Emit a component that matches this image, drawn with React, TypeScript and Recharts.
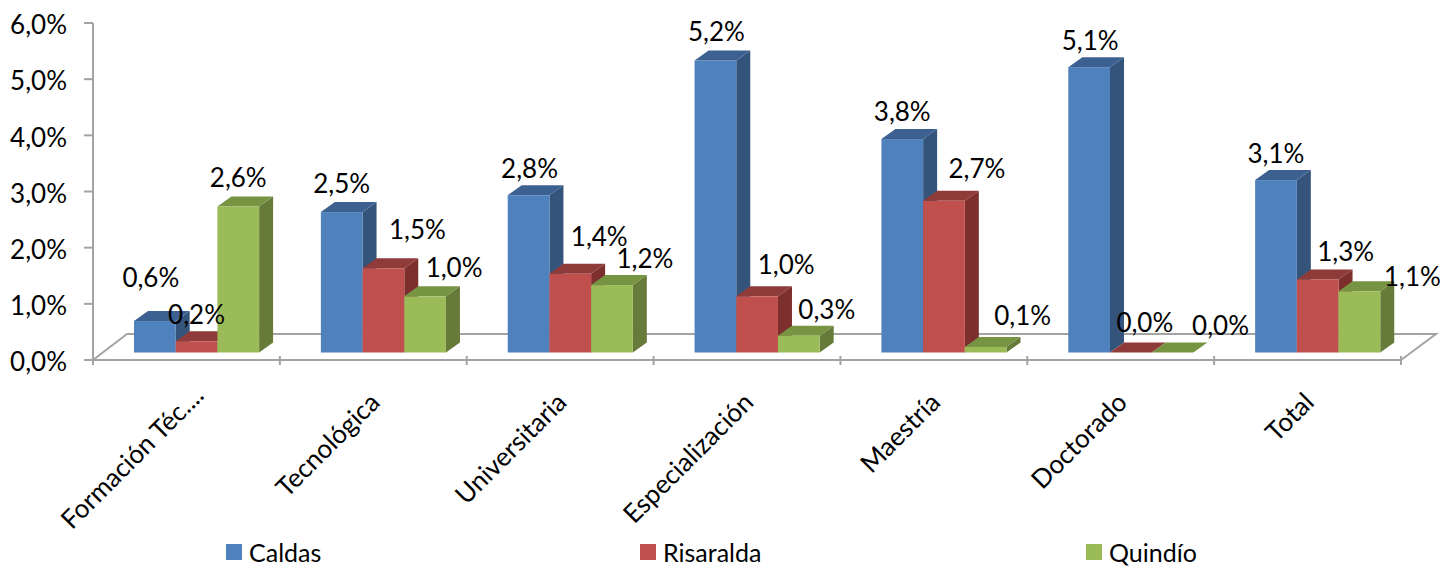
import { Bar, BarChart, Customized, LabelList, Legend, XAxis, YAxis } from "recharts";

const categories = ["Formación Téc....", "Tecnológica", "Universitaria", "Especialización", "Maestría", "Doctorado", "Total"];
const caldas = [0.56, 2.5, 2.8, 5.2, 3.8, 5.08, 3.07];
const risaralda = [0.2, 1.5, 1.4, 1.0, 2.7, 0.0, 1.3];
const quindio = [2.6, 1.0, 1.2, 0.3, 0.1, 0.0, 1.09];
const yTicks = [0, 1, 2, 3, 4, 5, 6];

const rows = categories.map((name, i) => ({
  name,
  caldas: caldas[i],
  risaralda: risaralda[i],
  quindio: quindio[i],
}));

const FONT = "Lato, 'Open Sans', sans-serif";
const AXIS_GREY = "#a3a3a3";
const TEXT_SIZE = 26;

// bars sit on the raised floor, not on the axis line
const SHIFT_X = 10;
const SHIFT_Y = -7.5;
const DEPTH_X = 14;
const DEPTH_Y = 10;

const BLUE = { front: "#4f81bd", top: "#3c6190", side: "#34547c" };
const RED = { front: "#c0504d", top: "#8f3b39", side: "#7d2f2d" };
const GREEN = { front: "#9bbb59", top: "#779442", side: "#667b3a" };

// hand placed data labels in the original, offset from the top centre of each bar
const caldasLabelOffset = [[-4, -44], [0, -29], [1, -27], [1, -29], [0, -28], [1, -27], [0, -27]];
const risaraldaLabelOffset = [[0, -27], [34, -39], [29, -38], [29, -32], [33, -33], [14, -31], [28, -28]];
const quindioLabelOffset = [[0, -29], [29, -29], [33, -27], [28, -27], [37, -32], [48, -28], [53, -15]];

const legendLeft = [226, 640, 1086];

function box3d(colors: typeof BLUE) {
  return function Box(props: any) {
    const x = props.x + SHIFT_X;
    const y = props.y + SHIFT_Y;
    const w = props.width;
    const h = props.height;
    return (
      <g>
        <polygon
          points={`${x + w},${y} ${x + w + DEPTH_X},${y - DEPTH_Y} ${x + w + DEPTH_X},${y + h - DEPTH_Y} ${x + w},${y + h}`}
          fill={colors.side}
        />
        <polygon
          points={`${x},${y} ${x + DEPTH_X},${y - DEPTH_Y} ${x + w + DEPTH_X},${y - DEPTH_Y} ${x + w},${y}`}
          fill={colors.top}
        />
        <rect x={x} y={y} width={w} height={h} fill={colors.front} />
      </g>
    );
  };
}

function barLabel(offsets: number[][]) {
  return function BarLabel(props: any) {
    const [dx, dy] = offsets[props.index];
    return (
      <text
        x={props.x + props.width / 2 + SHIFT_X + dx}
        y={props.y + SHIFT_Y + dy}
        textAnchor="middle"
        dominantBaseline="central"
        fontFamily={FONT}
        fontSize={TEXT_SIZE}
        fill="#000"
      >
        {formatPct(props.value)}
      </text>
    );
  };
}

function formatPct(v: number) {
  return v.toFixed(1).replace(".", ",") + "%";
}

function CategoryTick(props: any) {
  const { x, y, index, payload } = props;
  const band = 1308 / categories.length;
  const axisY = y - 12;
  // the truncated first label runs a bit further along its diagonal
  const endX = index === 0 ? x + 19 : x + 8;
  const endY = index === 0 ? axisY + 41 : axisY + 48;
  return (
    <g>
      <line x1={x + band / 2} x2={x + band / 2} y1={axisY} y2={axisY + 9} stroke={AXIS_GREY} strokeWidth={2} />
      {index === 0 && <line x1={x - band / 2} x2={x - band / 2} y1={axisY} y2={axisY + 9} stroke={AXIS_GREY} strokeWidth={2} />}
      <text
        x={endX}
        y={endY}
        textAnchor="end"
        fontFamily={FONT}
        fontSize={TEXT_SIZE}
        fill="#000"
        transform={`rotate(-45 ${endX} ${endY})`}
      >
        {payload.value}
      </text>
    </g>
  );
}

function Floor(props: any) {
  const left = 93;
  const right = 1401;
  const bottom = 360;
  return (
    <polyline
      points={`${left},${bottom} ${left + 34},334 ${right + 35},334 ${right},${bottom}`}
      fill="none"
      stroke={AXIS_GREY}
      strokeWidth={2}
    />
  );
}

function LegendRow(props: any) {
  return (
    <div style={{ position: "relative", width: 1441, height: 30, fontFamily: FONT, fontSize: 25, lineHeight: "20px" }}>
      {props.payload.map((item: any, i: number) => (
        <div key={item.value} style={{ position: "absolute", left: legendLeft[i], top: 6, display: "flex", alignItems: "center", height: 20 }}>
          <span style={{ display: "inline-block", width: 16, height: 16, background: item.color, marginRight: 7 }} />
          <span style={{ color: "#000" }}>{item.value}</span>
        </div>
      ))}
    </div>
  );
}

export default function App() {
  return (
    <div style={{ position: "absolute", left: 0, top: 0, width: 1441, height: 566, background: "#fff" }}>
      <BarChart
        width={1441}
        height={566}
        data={rows}
        margin={{ top: 23, right: 40, bottom: 0, left: 0 }}
        barSize={41.7}
        barGap={0}
      >
        <Customized component={Floor} />
        <XAxis dataKey="name" axisLine={{ stroke: AXIS_GREY, strokeWidth: 2 }} tickLine={false} height={176} interval={0} tick={<CategoryTick />} />
        <YAxis
          width={93}
          domain={[0, 6]}
          ticks={yTicks}
          tickFormatter={formatPct}
          axisLine={{ stroke: AXIS_GREY, strokeWidth: 2 }}
          tickLine={{ stroke: AXIS_GREY, strokeWidth: 2 }}
          tickSize={9}
          tickMargin={17}
          tick={{ fontFamily: FONT, fontSize: TEXT_SIZE, fill: "#000", dy: 2 }}
        />
        <Legend verticalAlign="bottom" content={<LegendRow />} itemSorter={null} />
        <Bar dataKey="caldas" name="Caldas" fill={BLUE.front} shape={box3d(BLUE)} isAnimationActive={false}>
          <LabelList dataKey="caldas" content={barLabel(caldasLabelOffset)} />
        </Bar>
        <Bar dataKey="risaralda" name="Risaralda" fill={RED.front} shape={box3d(RED)} isAnimationActive={false}>
          <LabelList dataKey="risaralda" content={barLabel(risaraldaLabelOffset)} />
        </Bar>
        <Bar dataKey="quindio" name="Quindío" fill={GREEN.front} shape={box3d(GREEN)} isAnimationActive={false}>
          <LabelList dataKey="quindio" content={barLabel(quindioLabelOffset)} />
        </Bar>
      </BarChart>
    </div>
  );
}
